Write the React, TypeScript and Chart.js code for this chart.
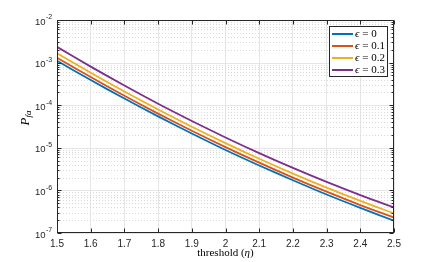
import React, { useEffect, useRef } from 'react';
import { Chart, registerables } from 'chart.js';

Chart.register(...registerables);

const thresholds = [1.5, 1.6, 1.7, 1.8, 1.9, 2.0, 2.1, 2.2, 2.3, 2.4, 2.5];
const epsValues = ['0', '0.1', '0.2', '0.3'];
const pfaEps0 = [1.10e-3, 3.89e-4, 1.43e-4, 5.47e-5, 2.17e-5, 8.9e-6, 3.85e-6, 1.73e-6, 8.0e-7, 3.89e-7, 1.95e-7];
const pfaEps01 = [1.30e-3, 4.57e-4, 1.67e-4, 6.35e-5, 2.52e-5, 1.04e-5, 4.48e-6, 2.0e-6, 9.33e-7, 4.53e-7, 2.3e-7];
const pfaEps02 = [1.66e-3, 5.77e-4, 2.09e-4, 7.93e-5, 3.13e-5, 1.29e-5, 5.53e-6, 2.48e-6, 1.16e-6, 5.66e-7, 2.88e-7];
const pfaEps03 = [2.34e-3, 8.05e-4, 2.89e-4, 1.08e-4, 4.26e-5, 1.75e-5, 7.5e-6, 3.37e-6, 1.58e-6, 7.76e-7, 3.98e-7];
const xTicks = [1.5, 1.6, 1.7, 1.8, 1.9, 2.0, 2.1, 2.2, 2.3, 2.4, 2.5];
const yDecades = [-7, -6, -5, -4, -3, -2];
const colors = ['#0072BD', '#D95319', '#EDB120', '#7E2F8E'];

const AXIS = '#262626';
const SANS = '"Liberation Sans", Arial, sans-serif';
const SERIF = '"Liberation Serif", "Times New Roman", serif';

const matlabPlugin = {
  id: 'matlab',
  beforeDatasetsDraw(chart: any) {
    const { ctx, chartArea: a, scales } = chart;
    const y = scales.y;
    ctx.save();
    ctx.lineWidth = 1;
    ctx.strokeStyle = '#d8d8d8';
    ctx.setLineDash([1, 2]);
    for (const d of yDecades) {
      if (d === yDecades[yDecades.length - 1]) continue;
      for (let m = 2; m <= 9; m++) {
        const py = Math.round(y.getPixelForValue(m * Math.pow(10, d))) + 0.5;
        ctx.beginPath();
        ctx.moveTo(a.left, py);
        ctx.lineTo(a.right, py);
        ctx.stroke();
      }
    }
    ctx.setLineDash([]);
    ctx.strokeStyle = '#e6e6e6';
    for (const d of yDecades) {
      const py = Math.round(y.getPixelForValue(Math.pow(10, d))) + 0.5;
      ctx.beginPath();
      ctx.moveTo(a.left, py);
      ctx.lineTo(a.right, py);
      ctx.stroke();
    }
    ctx.restore();
  },
  afterDatasetsDraw(chart: any) {
    const { ctx, chartArea: a, scales } = chart;
    const x = scales.x;
    const y = scales.y;
    ctx.save();
    ctx.strokeStyle = AXIS;
    ctx.lineWidth = 1;
    const L = Math.round(a.left) + 0.5;
    const R = Math.round(a.right) - 0.5;
    const T = Math.round(a.top) + 0.5;
    const B = Math.round(a.bottom) - 0.5;
    ctx.strokeRect(L, T, R - L, B - T);
    for (const v of xTicks) {
      const px = Math.round(x.getPixelForValue(v)) + 0.5;
      ctx.beginPath();
      ctx.moveTo(px, B);
      ctx.lineTo(px, B - 4);
      ctx.moveTo(px, T);
      ctx.lineTo(px, T + 4);
      ctx.stroke();
    }
    for (const d of yDecades) {
      const py = Math.round(y.getPixelForValue(Math.pow(10, d))) + 0.5;
      ctx.beginPath();
      ctx.moveTo(L, py);
      ctx.lineTo(L + 4, py);
      ctx.moveTo(R, py);
      ctx.lineTo(R - 4, py);
      ctx.stroke();
      if (d === yDecades[yDecades.length - 1]) continue;
      for (let m = 2; m <= 9; m++) {
        const pm = Math.round(y.getPixelForValue(m * Math.pow(10, d))) + 0.5;
        ctx.beginPath();
        ctx.moveTo(L, pm);
        ctx.lineTo(L + 2, pm);
        ctx.moveTo(R, pm);
        ctx.lineTo(R - 2, pm);
        ctx.stroke();
      }
    }
    ctx.fillStyle = AXIS;
    ctx.textBaseline = 'middle';
    for (const d of yDecades) {
      const py = y.getPixelForValue(Math.pow(10, d));
      ctx.font = `9.5px ${SANS}`;
      ctx.textAlign = 'right';
      ctx.fillText('10', a.left - 11.5, py + 2);
      ctx.font = `7px ${SANS}`;
      ctx.textAlign = 'left';
      ctx.fillText('-' + String(-d), a.left - 11, py - 2.5);
    }
    const lx = 329, ly = 26, lw = 59, lh = 51;
    ctx.fillStyle = '#ffffff';
    ctx.fillRect(lx, ly, lw, lh);
    ctx.strokeStyle = AXIS;
    ctx.lineWidth = 1;
    ctx.strokeRect(lx + 0.5, ly + 0.5, lw - 1, lh - 1);
    chart.data.datasets.forEach((ds: any, i: number) => {
      const yy = ly + 8 + i * 12;
      ctx.strokeStyle = ds.borderColor;
      ctx.lineWidth = 2;
      ctx.beginPath();
      ctx.moveTo(lx + 3, yy);
      ctx.lineTo(lx + 24, yy);
      ctx.stroke();
      ctx.fillStyle = '#000';
      ctx.textAlign = 'left';
      ctx.textBaseline = 'middle';
      ctx.font = `italic 11px ${SERIF}`;
      ctx.fillText('ϵ', lx + 26, yy);
      const w = ctx.measureText('ϵ').width;
      ctx.font = `11px ${SERIF}`;
      ctx.fillText(' = ' + epsValues[i], lx + 26 + w, yy);
    });
    ctx.restore();
  },
  afterDraw(chart: any) {
    const { ctx, chartArea: a } = chart;
    ctx.save();
    ctx.fillStyle = '#000';
    ctx.textBaseline = 'middle';
    ctx.textAlign = 'left';
    const cx = (a.left + a.right) / 2;
    const parts = ['threshold (', 'η', ')'];
    ctx.font = `11px ${SERIF}`;
    const w0 = ctx.measureText(parts[0]).width;
    ctx.font = `italic 11px ${SERIF}`;
    const w1 = ctx.measureText(parts[1]).width;
    ctx.font = `11px ${SERIF}`;
    const w2 = ctx.measureText(parts[2]).width;
    const sx = cx - (w0 + w1 + w2) / 2;
    ctx.fillText(parts[0], sx, 253);
    ctx.font = `italic 11px ${SERIF}`;
    ctx.fillText(parts[1], sx + w0, 253);
    ctx.font = `11px ${SERIF}`;
    ctx.fillText(parts[2], sx + w0 + w1, 253);
    ctx.translate(26, 118);
    ctx.rotate(-Math.PI / 2);
    ctx.font = `italic 13px ${SERIF}`;
    const pw = ctx.measureText('P').width;
    ctx.font = `italic 9px ${SERIF}`;
    const fw = ctx.measureText('fa').width;
    const start = -(pw + fw) / 2;
    ctx.font = `italic 13px ${SERIF}`;
    ctx.fillText('P', start, 0);
    ctx.font = `italic 9px ${SERIF}`;
    ctx.fillText('fa', start + pw, 3);
    ctx.restore();
  },
};

export default function App() {
  const ref = useRef<HTMLCanvasElement | null>(null);
  useEffect(() => {
    if (!ref.current) return;
    const series = [pfaEps0, pfaEps01, pfaEps02, pfaEps03];
    const chart = new Chart(ref.current, {
      type: 'line',
      data: {
        datasets: series.map((s, i) => ({
          label: `ϵ = ${epsValues[i]}`,
          data: thresholds.map((t, j) => ({ x: t, y: s[j] })),
          borderColor: colors[i],
          backgroundColor: colors[i],
          borderWidth: 1.8,
          pointRadius: 0,
          tension: 0.3,
          fill: false,
        })),
      },
      options: {
        animation: false,
        responsive: true,
        maintainAspectRatio: false,
        layout: { padding: { left: 0, top: 20, right: 42, bottom: 0 } },
        plugins: { legend: { display: false }, tooltip: { enabled: false }, title: { display: false } },
        scales: {
          x: {
            type: 'linear',
            min: 1.5,
            max: 2.5,
            afterBuildTicks: (s: any) => { s.ticks = xTicks.map((v) => ({ value: v })); },
            afterFit: (s: any) => { s.height = 29; },
            ticks: {
              padding: 5,
              color: AXIS,
              font: { family: SANS, size: 10 },
              maxRotation: 0,
              autoSkip: false,
              callback: (v: any) => String(parseFloat(Number(v).toFixed(1))),
            },
            grid: { color: '#e6e6e6', drawTicks: false, lineWidth: 1 },
            border: { display: false },
          },
          y: {
            type: 'logarithmic',
            min: 1e-7,
            max: 1e-2,
            afterFit: (s: any) => { s.width = 57; },
            ticks: { display: false },
            grid: { display: false },
            border: { display: false },
          },
        },
      },
      plugins: [matlabPlugin],
    } as any);
    return () => chart.destroy();
  }, []);
  return (
    <div style={{ position: 'absolute', left: 0, top: 0, width: 436, height: 262, background: '#fff' }}>
      <canvas ref={ref} />
    </div>
  );
}
